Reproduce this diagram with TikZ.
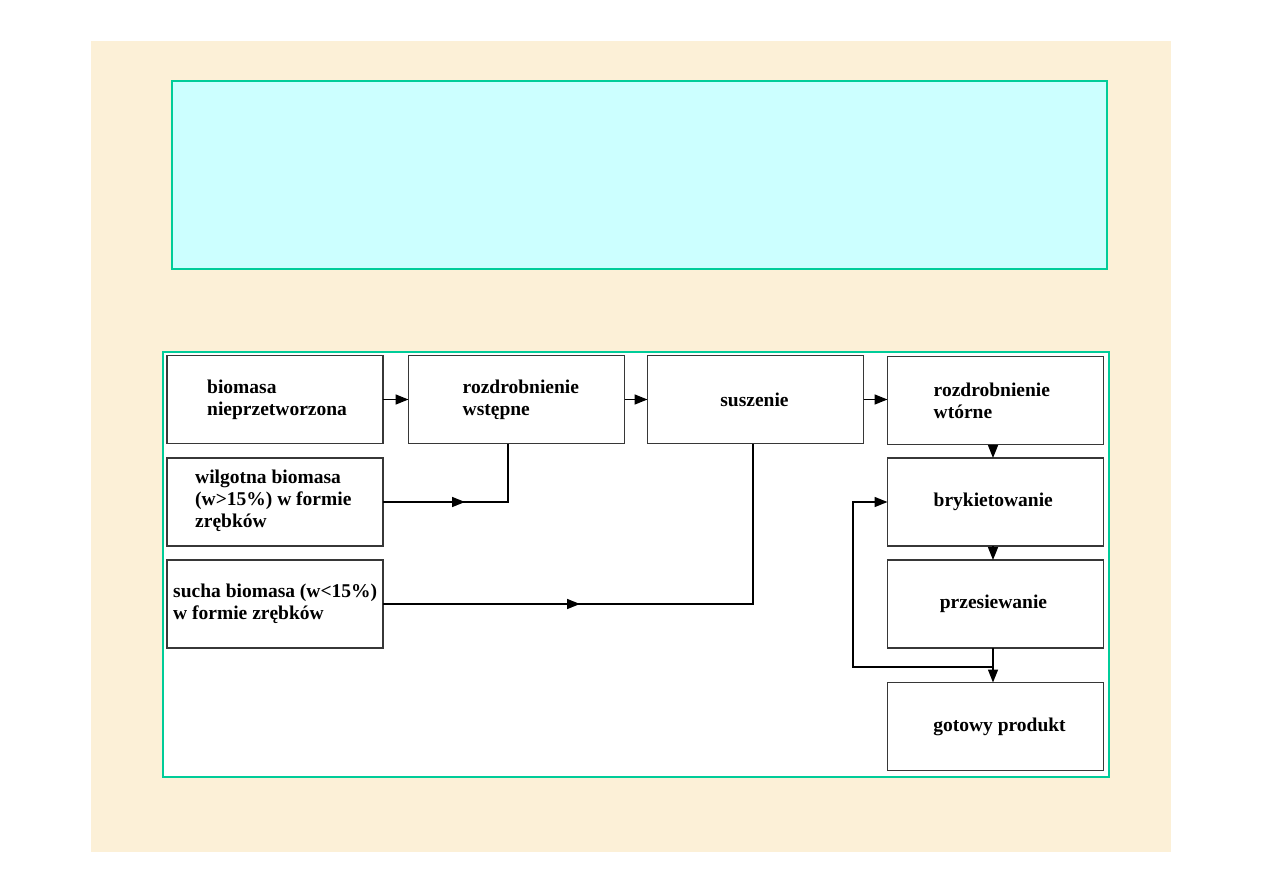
\documentclass[tikz,border=0pt]{standalone}
\usepackage{fontspec}
\setmainfont{Liberation Serif}
\usetikzlibrary{arrows.meta,decorations.markings}
\definecolor{beige}{RGB}{252,240,215}
\definecolor{edgegreen}{RGB}{0,204,153}
\definecolor{lightcyan}{RGB}{204,255,255}
\definecolor{boxedge}{RGB}{55,55,55}
\begin{document}
\begin{tikzpicture}[x=1pt,y=-1pt,
  procbox/.style={draw=boxedge, line width=1.9pt, fill=white, minimum width=216pt, minimum height=88pt, inner sep=0pt, outer sep=0pt},
  txt/.style={font=\bfseries\fontsize{19.5}{22}\selectfont, align=left, inner sep=0pt, anchor=west},
  conn/.style={draw=black, line width=1.5pt},
  tip/.style={-{Triangle[length=13pt,width=10pt]}},
  midtip/.style={postaction={decorate}, decoration={markings, mark=at position #1 with {\arrow{Triangle[length=13pt,width=10pt]}}}}
]
\useasboundingbox (0,0) rectangle (1263,893);
\fill[white] (0,0) rectangle (1263,893);
\fill[beige] (91,41) rectangle (1171,852);
\draw[edgegreen, line width=1.5pt, fill=lightcyan] (172,81) rectangle (1107,269);
\draw[edgegreen, line width=2pt, fill=white] (163,352) rectangle (1109,777);

% process boxes
\node[procbox] (b1) at (275,399.5) {};
\node[procbox] (b2) at (516.5,399.5) {};
\node[procbox] (b3) at (755.5,399.5) {};
\node[procbox] (b4) at (995.5,400.5) {};
\node[procbox] (b5) at (275,502) {};
\node[procbox] (b6) at (275,604) {};
\node[procbox] (b7) at (995.5,502) {};
\node[procbox] (b8) at (995.5,604) {};
\node[procbox] (b9) at (995.5,726.5) {};

% texts
\node[txt] (t1) at ([xshift=40pt]b1.west) {biomasa\\nieprzetworzona};
\node[txt] (t2) at ([xshift=54pt]b2.west) {rozdrobnienie\\wstępne};
\node[txt, anchor=center] (t3) at ([xshift=-1pt]b3.center) {suszenie};
\node[txt] (t4) at ([xshift=46pt]b4.west) {rozdrobnienie\\wtórne};
\node[txt] (t5) at ([xshift=28pt, yshift=1pt]b5.west) {wilgotna biomasa\\(w>15\%) w formie\\zrębków};
\node[txt] (t6) at ([xshift=6pt]b6.west) {sucha biomasa (w<15\%)\\w formie zrębków};
\node[txt] (t7) at ([xshift=46pt]b7.west) {brykietowanie};
\node[txt, anchor=center] (t8) at ([xshift=-2pt]b8.center) {przesiewanie};
\node[txt, anchor=center] (t9) at ([xshift=4pt]b9.center) {gotowy produkt};

% connectors
\draw[conn, tip] (b1.east) -- (b2.west);
\draw[conn, tip] (b2.east) -- (b3.west);
\draw[conn, tip] (b3.east) -- (b3.east -| b4.west);
\draw[conn, tip] (b4.south -| 993,0) -- (b7.north -| 993,0);
\draw[conn, tip] (b7.south -| 993,0) -- (b8.north -| 993,0);
\draw[conn, tip] (b8.south -| 993,0) -- (b9.north -| 993,0);
\draw[conn, midtip=82pt] (b5.east) -- (b5.east -| 508,0) -- (b2.south -| 508,0);
\draw[conn, midtip=197pt] (b6.east) -- (b6.east -| 753,0) -- (b3.south -| 753,0);
\coordinate (j) at (993,667);
\coordinate (l) at (853,667);
\draw[conn, tip] (j) -- (l) |- (b7.west);
\end{tikzpicture}
\end{document}
